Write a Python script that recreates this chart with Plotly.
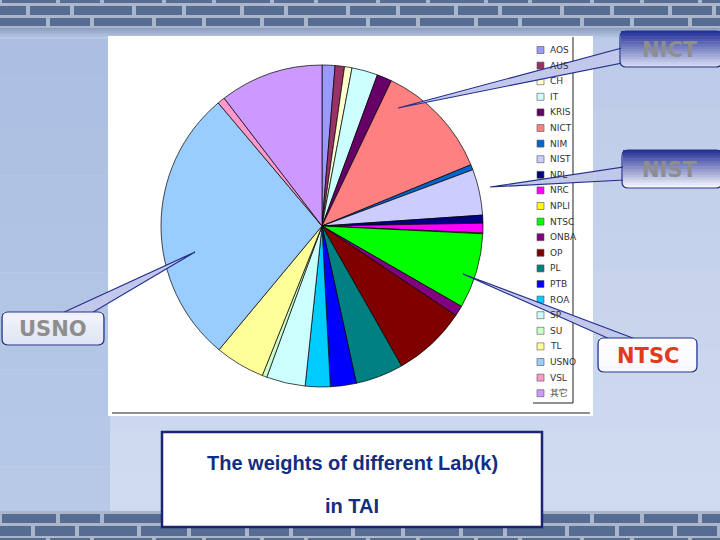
import plotly.graph_objects as go

labs = ["AOS", "AUS", "CH", "IT", "KRIS", "NICT", "NIM", "NIST", "NPL", "NRC", "NPLI",
        "NTSC", "ONBA", "OP", "PL", "PTB", "ROA", "SP", "SU", "TL", "USNO", "VSL", "其它"]
weights = [1.3, 0.94, 0.75, 2.6, 1.5, 11.7, 0.53, 4.6, 0.8, 0.97, 0.08,
           7.55, 1.05, 7.4, 4.8, 2.6, 2.5, 3.9, 0.47, 5.0, 27.8, 0.75, 10.4]
colors = ["#9999FF", "#993366", "#FFFFCC", "#CCFFFF", "#660066", "#FF8080", "#0066CC",
          "#CCCCFF", "#000080", "#FF00FF", "#FFFF00", "#00FF00", "#800080", "#800000",
          "#008080", "#0000FF", "#00CCFF", "#CCFFFF", "#CCFFCC", "#FFFF99", "#99CCFF",
          "#FF99CC", "#CC99FF"]

W, H = 720, 540


def px(x):
    return x / W


def py(y):
    return 1 - y / H


shapes = []


def rect(x0, y0, x1, y1, fill, line=None, lw=0, layer="below"):
    shapes.append(dict(type="rect", xref="paper", yref="paper",
                       x0=px(x0), x1=px(x1), y0=py(y1), y1=py(y0),
                       fillcolor=fill, line=dict(color=line or fill, width=lw),
                       layer=layer))


def path(points, fill, line, lw=1, layer="above", close=True):
    d = "M " + " L ".join(f"{px(x):.5f},{py(y):.5f}" for x, y in points)
    if close:
        d += " Z"
    shapes.append(dict(type="path", xref="paper", yref="paper", path=d,
                       fillcolor=fill, line=dict(color=line, width=lw), layer=layer))


def blend(c1, c2, t):
    a = [int(c1[i:i + 2], 16) for i in (1, 3, 5)]
    b = [int(c2[i:i + 2], 16) for i in (1, 3, 5)]
    return "#" + "".join(f"{round(a[k] + (b[k] - a[k]) * t):02x}" for k in range(3))


# ---- slide background ----
for i in range(12):
    t = i / 11
    rect(0, 30 + i * 40, 720, 30 + (i + 1) * 40, blend("#bccbe8", "#d0dbf0", t))
for i in range(10):
    rect(0, 30 + i * 48.5, 110, 30 + (i + 1) * 48.5, blend("#aabfe2", "#b8c9e8", i / 9))
for i in range(6):
    rect(0, 27 + i * 2, 720, 29 + i * 2, blend("#8c9cbc", "#b8c8e6", i / 5))
# brick bands
for (ya, yb) in [(0, 28), (511, 540)]:
    rect(0, ya, 720, yb, "#aab6cc")
rows_top = [(-6, 3, 0), (6, 15, 30), (18, 26, 10)]
rows_bot = [(514, 523, 0), (526, 536, 25), (538, 546, 10)]
for rows in (rows_top, rows_bot):
    for (ya, yb, off) in rows:
        x = -off
        k = 0
        while x < 720:
            wdt = [58, 44, 62, 50][k % 4]
            rect(x + 2, ya, x + wdt - 2, yb, "#566c92")
            x += wdt
            k += 1

# ---- chart area ----
rect(108, 36, 593, 416, "#FFFFFF")
path([(112, 413), (590, 413)], None, "#222222", 1, "below", close=False)
path([(573, 37), (573, 403), (533, 403)], None, "#222222", 1, "below", close=False)

# legend (manual, drawn from the data arrays)
annotations = []
for i, (lab, col) in enumerate(zip(labs, colors)):
    yc = 50 + i * 15.6
    rect(537, yc - 3.5, 544, yc + 3.5, col, "#555555", 0.6, "above")
    annotations.append(dict(x=px(548), y=py(yc), xref="paper", yref="paper",
                            text=lab, showarrow=False, xanchor="left", yanchor="middle",
                            font=dict(family="DejaVu Sans", size=9, color="#333333")))

# ---- callouts ----
navy = "#24308a"


def grad_box(x0, y0, x1, y1, ctop, cbot, n=14):
    h = (y1 - y0) / n
    for i in range(n):
        rect(x0 + 1, y0 + i * h, x1 - 1, y0 + (i + 1) * h + 0.5,
             blend(ctop, cbot, i / (n - 1)), layer="above")
    r = 6
    pts = f"M {px(x0 + r)},{py(y0)} L {px(x1 - r)},{py(y0)} Q {px(x1)},{py(y0)} {px(x1)},{py(y0 + r)} " \
          f"L {px(x1)},{py(y1 - r)} Q {px(x1)},{py(y1)} {px(x1 - r)},{py(y1)} " \
          f"L {px(x0 + r)},{py(y1)} Q {px(x0)},{py(y1)} {px(x0)},{py(y1 - r)} " \
          f"L {px(x0)},{py(y0 + r)} Q {px(x0)},{py(y0)} {px(x0 + r)},{py(y0)} Z"
    shapes.append(dict(type="path", xref="paper", yref="paper", path=pts,
                       fillcolor="rgba(0,0,0,0)", line=dict(color=navy, width=1.2),
                       layer="above"))


# pointer wedges
path([(398, 108), (622, 48), (622, 63)], "#c2c8ec", navy, 1.2)
path([(490, 187), (624, 167), (624, 180)], "#c2c8ec", navy, 1.2)
path([(195, 252), (60, 314), (90, 314)], "#c2c8ec", navy, 1.2)
path([(463, 274), (612, 340), (638, 340)], "#c2c8ec", navy, 1.2)

grad_box(620, 31, 722, 67, "#28349a", "#d4daf2")
grad_box(622, 150, 722, 188, "#28349a", "#f4f6fc")
grad_box(2, 312, 104, 345, "#f2f4fa", "#dfe5f2")
grad_box(598, 338, 697, 372, "#ffffff", "#f6f8fc")

box_font = "DejaVu Sans"
for txt, x, y, col in [("NICT", 670, 50, "#8e8e8e"), ("NIST", 670, 170, "#8e8e8e"),
                       ("USNO", 53, 329, "#8e8e8e"), ("NTSC", 648, 356, "#e23a1c")]:
    annotations.append(dict(x=px(x), y=py(y), xref="paper", yref="paper",
                            text=f"<b>{txt}</b>", showarrow=False,
                            xanchor="center", yanchor="middle",
                            font=dict(family=box_font, size=21, color=col)))

# ---- caption box ----
rect(162, 432, 542, 527, "#FFFFFF", "#1a2470", 2.5, "above")
annotations.append(dict(x=px(352), y=py(463), xref="paper", yref="paper",
                        text="<b>The weights of different Lab(k)</b>", showarrow=False,
                        xanchor="center", yanchor="middle",
                        font=dict(family="Liberation Sans", size=20, color="#142d80")))
annotations.append(dict(x=px(352), y=py(506), xref="paper", yref="paper",
                        text="<b>in TAI</b>", showarrow=False,
                        xanchor="center", yanchor="middle",
                        font=dict(family="Liberation Sans", size=20, color="#142d80")))

# ---- pie ----
cx, cy, R = 322, 226, 161
fig = go.Figure(go.Pie(
    labels=labs, values=weights, sort=False, direction="clockwise", rotation=0,
    marker=dict(colors=colors, line=dict(color="#000000", width=0.7)),
    textinfo="none", hoverinfo="label+percent",
    domain=dict(x=[px(cx - R), px(cx + R)], y=[py(cy + R), py(cy - R)]),
))

fig.update_layout(
    width=W, height=H, margin=dict(l=0, r=0, t=0, b=0),
    paper_bgcolor="#c8d6ee", plot_bgcolor="rgba(0,0,0,0)",
    showlegend=False, shapes=shapes, annotations=annotations,
)

fig.write_html("out.html")
